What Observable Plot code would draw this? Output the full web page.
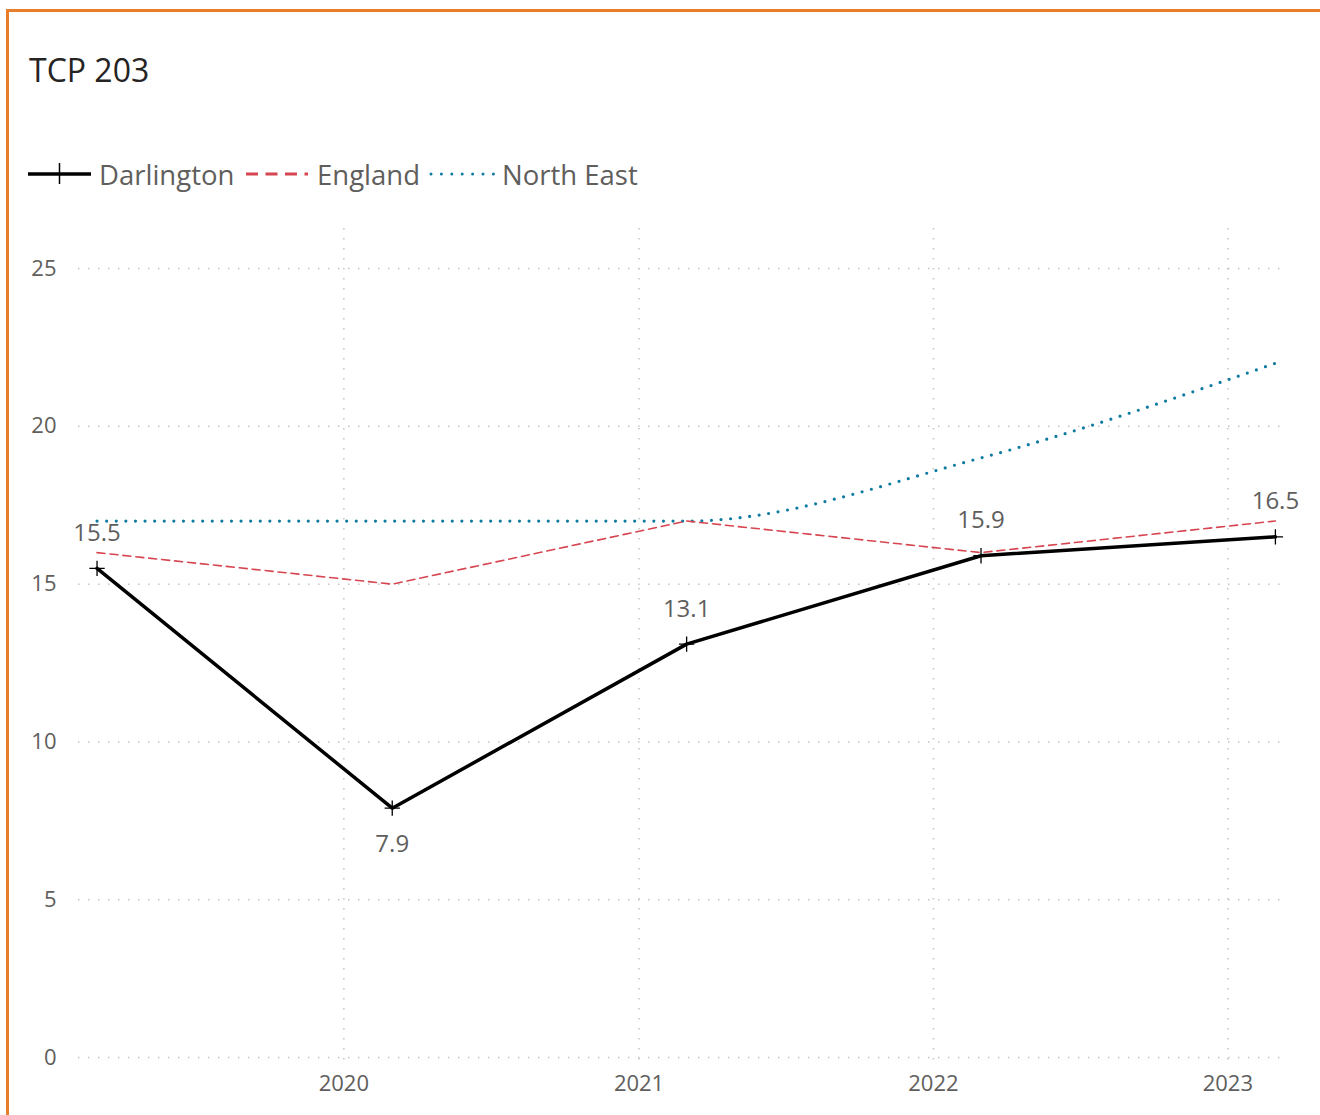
<!DOCTYPE html>
<html><head><meta charset="utf-8">
<script src="https://cdn.jsdelivr.net/npm/d3@7"></script>
<script src="https://cdn.jsdelivr.net/npm/@observablehq/plot@0.6"></script>
<style>
html,body{margin:0;padding:0;background:#fff;width:1320px;height:1115px;overflow:hidden;font-family:"Open Sans",sans-serif;}
#frame{position:absolute;left:6px;top:9px;width:1400px;height:1200px;border-left:3px solid #E87D2A;border-top:3px solid #E87D2A;box-sizing:border-box;}
#title{position:absolute;left:29px;top:54px;font-size:32px;line-height:1;color:#252423;white-space:nowrap;}
.lg{position:absolute;top:161px;font-size:27.5px;line-height:1;color:#605E5C;white-space:nowrap;}
#swatches{position:absolute;left:0;top:150px;}
#chart{position:absolute;left:0;top:220px;}
</style></head>
<body>
<div id="frame"></div>
<div id="title">TCP 203</div>
<svg id="swatches" width="700" height="50"></svg>
<div id="legend"></div>
<div id="chart"></div>
<script>
const dates = ["2019-03-01", "2020-03-01", "2021-03-01", "2022-03-01", "2023-03-01"];
const darlington = [15.5, 7.9, 13.1, 15.9, 16.5];
const england = [16, 15, 17, 16, 17];
const northEast = [17, 17, 17, 19, 22];
const seriesNames = ["Darlington", "England", "North East"];
const seriesColors = ["#000000", "#D64550", "#0F7BA0"];
const yTicks = [0, 5, 10, 15, 20, 25];
const xTickYears = [2020, 2021, 2022, 2023];

const toRows = (vals) => dates.map((d, i) => ({date: new Date(d), value: vals[i], i}));
const dRows = toRows(darlington);
const eRows = toRows(england);
const nRows = toRows(northEast);
const xTicks = xTickYears.map(y => new Date(Date.UTC(y, 0, 1)));

const isLow = (d) => {
  const prev = darlington[d.i - 1], next = darlington[d.i + 1];
  return prev !== undefined && next !== undefined && d.value < prev && d.value < next;
};

const gray = "#605E5C";
const chart = Plot.plot({
  width: 1320,
  height: 895,
  marginLeft: 78,
  marginRight: 33,
  marginTop: 8,
  marginBottom: 58,
  style: {fontFamily: "Open Sans, sans-serif", background: "transparent"},
  x: {type: "utc", domain: [new Date("2019-02-06"), new Date("2023-03-16")], label: null},
  y: {domain: [0, 26.27], label: null},
  marks: [
    Plot.gridY(yTicks, {stroke: "#c4c4c4", strokeOpacity: 1, strokeWidth: 1.5, strokeDasharray: "1.5,8.5"}),
    Plot.gridX(xTicks, {stroke: "#c4c4c4", strokeOpacity: 1, strokeWidth: 1.5, strokeDasharray: "1.5,8.5", y2: 0, insetBottom: -3}),
    Plot.axisY(yTicks, {tickSize: 0, tickPadding: 22, fontSize: 22, fill: gray, label: null}),
    Plot.axisX(xTicks, {tickSize: 0, tickPadding: 18, fontSize: 22, fill: gray, label: null, tickFormat: d3.utcFormat("%Y")}),
    Plot.line(nRows, {x: "date", y: "value", stroke: seriesColors[2], strokeWidth: 3.2, strokeDasharray: "0,9.6", strokeLinecap: "round", curve: "monotone-x"}),
    Plot.line(eRows, {x: "date", y: "value", stroke: seriesColors[1], strokeWidth: 1.6, strokeDasharray: "8,5"}),
    Plot.line(dRows, {x: "date", y: "value", stroke: seriesColors[0], strokeWidth: 3.5}),
    Plot.dot(dRows, {x: "date", y: "value", symbol: "plus", r: 5, stroke: "#000", strokeWidth: 1.3}),
    Plot.text(dRows.filter(d => !isLow(d)), {x: "date", y: "value", text: d => String(d.value), dy: -35, fontSize: 24, fill: gray}),
    Plot.text(dRows.filter(d => isLow(d)), {x: "date", y: "value", text: d => String(d.value), dy: 36, fontSize: 24, fill: gray})
  ]
});
document.getElementById("chart").appendChild(chart);

// Legend
const sw = d3.select("#swatches");
const lg = d3.select("#legend");
const items = [
  {name: seriesNames[0], color: seriesColors[0], x0: 28, x1: 91, tx: 99},
  {name: seriesNames[1], color: seriesColors[1], x0: 246, x1: 308, tx: 317},
  {name: seriesNames[2], color: seriesColors[2], x0: 431, x1: 495, tx: 502}
];
items.forEach((it, k) => {
  const l = sw.append("line").attr("x1", it.x0).attr("x2", it.x1).attr("y1", 24).attr("y2", 24).attr("stroke", it.color);
  if (k === 0) {
    l.attr("stroke-width", 3.5);
    sw.append("line").attr("x1", (it.x0 + it.x1) / 2).attr("x2", (it.x0 + it.x1) / 2).attr("y1", 13).attr("y2", 34).attr("stroke", "#000").attr("stroke-width", 1.5);
  } else if (k === 1) {
    l.attr("stroke-width", 3).attr("stroke-dasharray", "12,7.5");
  } else {
    l.attr("stroke-width", 3).attr("stroke-dasharray", "0,10.4").attr("stroke-linecap", "round");
  }
  lg.append("div").attr("class", "lg").style("left", it.tx + "px").text(it.name);
});
</script>
</body></html>
